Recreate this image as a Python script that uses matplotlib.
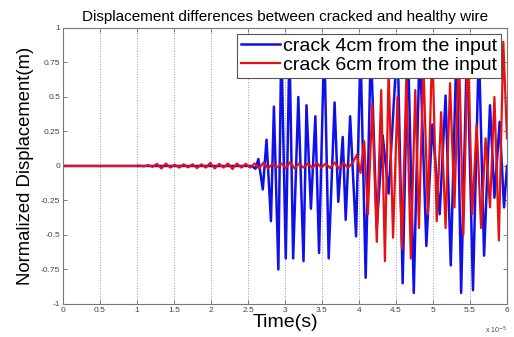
import matplotlib
matplotlib.use("Agg")
import matplotlib.pyplot as plt

# time in units of 1e-5 s
blue_t = [0.0, 2.55, 2.60, 2.64, 2.70, 2.75, 2.81, 2.85, 2.91, 2.95, 3.01, 3.06, 3.11, 3.18,
          3.25, 3.29, 3.35, 3.41, 3.46, 3.53, 3.59, 3.67, 3.72, 3.78, 3.82, 3.88, 3.96,
          4.02, 4.09, 4.16, 4.24, 4.32, 4.40, 4.52, 4.59, 4.66, 4.74, 4.82, 4.91, 4.99,
          5.09, 5.17, 5.24, 5.32, 5.38, 5.46, 5.54, 5.62, 5.69, 5.77, 5.83, 5.90, 5.96, 6.0]
blue_v = [0.0, 0.0, -0.02, 0.05, -0.17, 0.19, -0.40, 0.43, -0.75, 0.92, -0.67, 0.88, -0.67, 0.50,
          -0.69, 0.44, -0.31, 0.36, -0.63, 0.92, -0.67, 0.46, -0.26, 0.21, -0.39, 0.36, -0.51,
          0.85, -0.81, 0.88, -0.45, 0.22, -0.20, 0.92, -0.85, 0.92, -0.92, 0.90, -0.58, 0.30,
          -0.35, 0.51, -0.72, 0.92, -0.92, 0.90, -0.90, 0.88, -0.65, 0.44, -0.23, 0.32, -0.30, 0.0]

red_t = [0.0, 0.97, 1.03, 1.09, 1.15, 1.21, 1.27, 1.33, 1.39, 1.45, 1.51, 1.57, 1.63, 1.69,
         1.75, 1.81, 1.87, 1.93, 1.99, 2.05, 2.11, 2.17, 2.23, 2.29, 2.35, 2.41, 2.47, 2.53,
         2.59, 2.65, 2.71, 2.77, 2.83, 2.89, 2.95, 3.01, 3.07, 3.13, 3.19, 3.25, 3.31, 3.37,
         3.43, 3.49, 3.55, 3.61, 3.67, 3.73, 3.79, 3.85, 3.91,
         3.97, 4.02, 4.07, 4.12, 4.18, 4.24, 4.30, 4.35, 4.40, 4.46, 4.52, 4.58, 4.64, 4.70,
         4.76, 4.81, 4.87, 4.93, 4.99, 5.05, 5.11, 5.17, 5.23, 5.29, 5.35, 5.41, 5.47, 5.53,
         5.59, 5.65, 5.71, 5.77, 5.83, 5.89, 5.95, 6.0]
red_v = [0.0, 0.0, 0.003, -0.003, 0.006, -0.006, 0.015, -0.018, 0.018, -0.012, 0.01, -0.012, 0.012, -0.01,
         0.012, -0.015, 0.012, -0.012, 0.022, -0.018, 0.015, -0.012, 0.018, -0.022, 0.018, -0.012, 0.015, -0.012,
         0.018, -0.018, 0.025, -0.018, 0.015, -0.012, 0.018, -0.015, 0.028, -0.018, 0.018, -0.012, 0.018, -0.015,
         0.022, -0.012, 0.018, -0.015, 0.025, -0.018, 0.022, -0.012, 0.02,
         0.08, -0.05, 0.18, -0.35, 0.45, -0.55, 0.55, -0.69, 0.70, -0.52, 0.50, -0.60, 0.65, -0.67,
         0.55, -0.45, 0.75, -0.35, 0.90, -0.40, 0.39, -0.45, 0.60, -0.30, 0.85, -0.50, 0.90, -0.35,
         0.30, -0.45, 0.20, -0.30, 0.50, -0.54, 0.90, 0.20]

xticks = [0, 0.5, 1, 1.5, 2, 2.5, 3, 3.5, 4, 4.5, 5, 5.5, 6]
xticklabels = ["0", "0.5", "1", "1.5", "2", "2.5", "3", "3.5", "4", "4.5", "5", "5.5", "6"]
yticks = [-1, -0.75, -0.5, -0.25, 0, 0.25, 0.5, 0.75, 1]
yticklabels = ["-1", "-0.75", "-0.5", "-0.25", "0", "0.25", "0.5", "0.75", "1"]

plt.rcParams['font.family'] = ['Liberation Sans', 'DejaVu Sans']

fig = plt.figure(figsize=(5.14, 3.37), dpi=100)
ax = fig.add_axes([0.1226, 0.098, 0.8638, 0.819])

ax.plot(blue_t, blue_v, color='#1010e8', lw=1.8, label='crack 4cm from the input')
ax.plot(red_t, red_v, color='#e81010', lw=1.6, label='crack 6cm from the input')

ax.set_xlim(0, 6)
ax.set_ylim(-1, 1)
ax.set_xticks(xticks)
ax.set_xticklabels(xticklabels)
ax.set_yticks(yticks)
ax.set_yticklabels(yticklabels)
ax.tick_params(direction='in', top=True, right=True, labelsize=6, labelcolor='#444444',
               color='#666666', length=3, width=0.6, pad=2)
for s in ax.spines.values():
    s.set_color('#777777')
    s.set_linewidth(0.8)
ax.xaxis.grid(True, linestyle=':', color='#999999', linewidth=0.7)

ax.set_title('Displacement differences between cracked and healthy wire', fontsize=11, pad=5)
ax.set_xlabel('Time(s)', fontsize=14, labelpad=0)
ax.set_ylabel('Normalized Displacement(m)', fontsize=13.3, labelpad=5)
ax.text(1.0, -0.075, r'x 10$^{-5}$', transform=ax.transAxes, ha='right', va='top',
        fontsize=5, color='#444444')

leg = ax.legend(loc='upper right', fontsize=14, handlelength=2.0, handletextpad=0.15,
                borderpad=0.2, labelspacing=0.05, borderaxespad=0.3, fancybox=False,
                framealpha=1, edgecolor='#555555')
leg.get_frame().set_linewidth(0.8)

fig.savefig('out.png', dpi=100)
